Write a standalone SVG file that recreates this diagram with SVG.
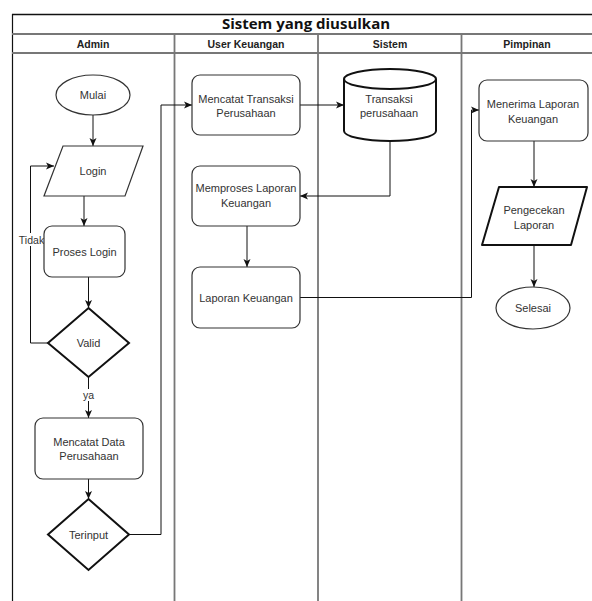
<svg xmlns="http://www.w3.org/2000/svg" width="592" height="601" viewBox="0 0 592 601">
<style>
.t{font-family:"Liberation Sans",Arial,sans-serif;font-size:11px;fill:#333;text-anchor:middle}
.h{font-family:"Liberation Sans",Arial,sans-serif;font-size:10.5px;font-weight:bold;fill:#222;text-anchor:middle}
.ti{font-family:"Open Sans","DejaVu Sans",sans-serif;font-size:15px;font-weight:bold;fill:#111;text-anchor:middle}
.n{fill:#fff;stroke:#333;stroke-width:1.2}
.k{fill:#fff;stroke:#111;stroke-width:2}
.c{fill:none;stroke:#111;stroke-width:1}
.lane{stroke:#777;stroke-width:1.8;fill:none}
</style>
<defs>
<marker id="a" markerUnits="userSpaceOnUse" markerWidth="10" markerHeight="10" viewBox="0 0 10 10" refX="9" refY="5" orient="auto">
<path d="M1,1.5 L9,5 L1,8.5 L3,5 z" fill="#111"/>
</marker>
</defs>
<rect width="592" height="601" fill="#fff"/>
<g id="pool">
<line x1="12" y1="14.5" x2="592" y2="14.5" stroke="#111" stroke-width="1.5"/>
<line x1="12.5" y1="14" x2="12.5" y2="601" stroke="#111" stroke-width="1.2"/>
<line class="lane" x1="12" y1="34" x2="592" y2="34"/>
<line class="lane" x1="12" y1="53" x2="592" y2="53"/>
<line class="lane" x1="174.5" y1="34" x2="174.5" y2="601"/>
<line class="lane" x1="318" y1="34" x2="318" y2="601"/>
<line class="lane" x1="461.5" y1="34" x2="461.5" y2="601"/>
<text class="ti" x="306" y="29">Sistem yang diusulkan</text>
<text class="h" x="93" y="47.5">Admin</text>
<text class="h" x="246" y="47.5">User Keuangan</text>
<text class="h" x="390" y="47.5">Sistem</text>
<text class="h" x="527" y="47.5">Pimpinan</text>
</g>
<g id="connectors">
<line class="c" x1="93" y1="115" x2="93" y2="146" marker-end="url(#a)"/>
<line class="c" x1="84" y1="196" x2="84" y2="226" marker-end="url(#a)"/>
<line class="c" x1="88.5" y1="277" x2="88.5" y2="308" marker-end="url(#a)"/>
<polyline class="c" points="48,343 30.5,343 30.5,166 54,166" marker-end="url(#a)"/>
<line class="c" x1="88.5" y1="377" x2="88.5" y2="418" marker-end="url(#a)"/>
<line class="c" x1="88.5" y1="479" x2="88.5" y2="499" marker-end="url(#a)"/>
<polyline class="c" points="129,534.5 161,534.5 161,105 192,105" marker-end="url(#a)"/>
<line class="c" x1="300" y1="105" x2="344" y2="105" marker-end="url(#a)"/>
<polyline class="c" points="390,141 390,196 300,196" marker-end="url(#a)"/>
<line class="c" x1="247" y1="226" x2="247" y2="267" marker-end="url(#a)"/>
<polyline class="c" points="300,297.5 471.5,297.5 471.5,110 479,110" marker-end="url(#a)"/>
<line class="c" x1="534" y1="141" x2="534" y2="187" marker-end="url(#a)"/>
<line class="c" x1="534" y1="245" x2="534" y2="287" marker-end="url(#a)"/>
<rect x="18" y="233" width="27" height="13" fill="#fff"/>
<text class="t" x="31.5" y="243.5" style="font-size:10.5px">Tidak</text>
<rect x="82" y="389" width="13" height="12" fill="#fff"/>
<text class="t" x="88.5" y="398.5" style="font-size:10.5px">ya</text>
</g>
<g id="mulai">
<ellipse class="n" cx="93" cy="95" rx="37" ry="20"/>
<text class="t" x="93" y="99">Mulai</text>
</g>
<g id="login">
<polygon class="n" points="63,146 143,146 125,196 44,196"/>
<text class="t" x="93" y="175">Login</text>
</g>
<g id="proses-login">
<rect class="n" x="44" y="226" width="81" height="51" rx="8"/>
<text class="t" x="84.5" y="256">Proses Login</text>
</g>
<g id="valid">
<polygon class="k" points="88.5,308 129,343 88.5,377 48,343"/>
<text class="t" x="88.5" y="347">Valid</text>
</g>
<g id="mencatat-data">
<rect class="n" x="35" y="418" width="108" height="61" rx="8"/>
<text class="t" x="89" y="446">Mencatat Data</text>
<text class="t" x="89" y="460">Perusahaan</text>
</g>
<g id="terinput">
<polygon class="k" points="88.5,499 129,534.5 88.5,570 48,534.5"/>
<text class="t" x="88.5" y="538.5">Terinput</text>
</g>
<g id="mencatat-transaksi">
<rect class="n" x="192" y="75" width="108" height="60" rx="8"/>
<text class="t" x="246" y="103">Mencatat Transaksi</text>
<text class="t" x="246" y="117">Perusahaan</text>
</g>
<g id="memproses">
<rect class="n" x="192" y="166" width="108" height="60" rx="8"/>
<text class="t" x="246" y="192">Memproses Laporan</text>
<text class="t" x="246" y="207">Keuangan</text>
</g>
<g id="laporan-keuangan">
<rect class="n" x="192" y="267" width="108" height="61" rx="8"/>
<text class="t" x="246" y="302">Laporan Keuangan</text>
</g>
<g id="transaksi-db">
<path class="k" d="M344,79 A46,10 0 0,1 436,79 V131 A46,10 0 0,1 344,131 Z"/>
<path class="k" d="M344,79 A46,10 0 0,0 436,79" fill="none"/>
<text class="t" x="389" y="103">Transaksi</text>
<text class="t" x="389" y="117">perusahaan</text>
</g>
<g id="menerima">
<rect class="n" x="479" y="80" width="109" height="61" rx="8"/>
<text class="t" x="533" y="108">Menerima Laporan</text>
<text class="t" x="533" y="123">Keuangan</text>
</g>
<g id="pengecekan">
<polygon class="k" points="499,187 587,187 571,245 482,245" stroke-linejoin="round"/>
<text class="t" x="534" y="214">Pengecekan</text>
<text class="t" x="534" y="229">Laporan</text>
</g>
<g id="selesai">
<ellipse class="n" cx="533" cy="308" rx="37" ry="21"/>
<text class="t" x="533" y="312">Selesai</text>
</g>
</svg>
